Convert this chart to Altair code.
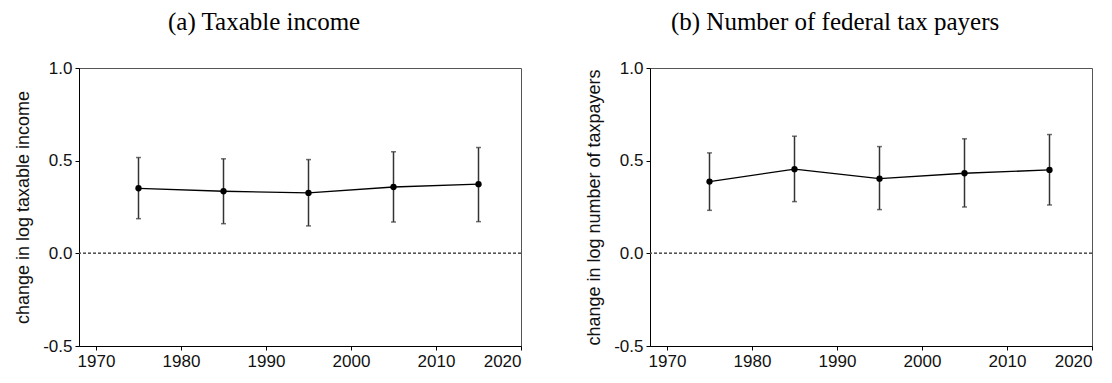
import altair as alt
import pandas as pd

# Decade midpoints for the five estimation windows
years = [1975, 1985, 1995, 2005, 2015]

# (a) change in log taxable income: point estimate and 95% bounds
income_est = [0.351, 0.335, 0.326, 0.358, 0.373]
income_lo = [0.187, 0.160, 0.148, 0.169, 0.171]
income_hi = [0.517, 0.510, 0.506, 0.548, 0.571]

# (b) change in log number of taxpayers
payers_est = [0.387, 0.454, 0.403, 0.432, 0.450]
payers_lo = [0.232, 0.279, 0.236, 0.250, 0.261]
payers_hi = [0.542, 0.632, 0.576, 0.618, 0.641]

x_ticks = [1970, 1980, 1990, 2000, 2010, 2020]
y_ticks = [-0.5, 0.0, 0.5, 1.0]

SANS = "Liberation Sans"
SERIF = "Liberation Serif"

y_label_expr = ("datum.value < 0 ? '-' + format(abs(datum.value), '.1f') "
                ": format(datum.value, '.1f')")


def panel(title, ytitle, est, lo, hi):
    df = pd.DataFrame({"year": years, "est": est, "lo": lo, "hi": hi})
    x = alt.X("year:Q", scale=alt.Scale(domain=[1968, 2020], nice=False, zero=False),
              axis=alt.Axis(values=x_ticks, format="d", title=None, grid=False))
    y = alt.Y("est:Q", scale=alt.Scale(domain=[-0.5, 1.0], nice=False),
              axis=alt.Axis(values=y_ticks, labelExpr=y_label_expr, title=ytitle,
                            grid=False))
    base = alt.Chart(df)
    zero = alt.Chart(df).mark_rule(color="#555", strokeDash=[3, 2], strokeWidth=1).encode(
        y=alt.datum(0)
    )
    bars = base.mark_rule(color="#333", strokeWidth=1.5).encode(
        x=x, y=alt.Y("lo:Q"), y2="hi:Q"
    )
    cap_lo = base.mark_tick(color="#333", orient="horizontal", size=5, thickness=1.5).encode(
        x=x, y=alt.Y("lo:Q")
    )
    cap_hi = base.mark_tick(color="#333", orient="horizontal", size=5, thickness=1.5).encode(
        x=x, y=alt.Y("hi:Q")
    )
    line = base.mark_line(color="black", strokeWidth=1.3).encode(x=x, y=y)
    pts = base.mark_circle(color="black", opacity=1, size=40).encode(x=x, y=y)
    return alt.layer(zero, bars, cap_lo, cap_hi, line, pts).properties(
        width=442, height=278,
        title=alt.TitleParams(title, font=SERIF, fontSize=25, fontWeight="normal",
                              color="black", anchor="middle", frame="bounds",
                              dx=-4, offset=24),
    )


left = panel("(a) Taxable income", "change in log taxable income",
             income_est, income_lo, income_hi)
right = panel("(b) Number of federal tax payers", "change in log number of taxpayers",
              payers_est, payers_lo, payers_hi)

chart = alt.hconcat(left, right, spacing=63).properties(
    padding={"left": 14, "top": 9, "right": 4, "bottom": 4},
    background="white",
).configure_view(
    stroke="#555", strokeWidth=1
).configure_axis(
    labelFont=SANS, titleFont=SANS, labelFontSize=17, titleFontSize=18,
    labelColor="#111", titleColor="#111", titleFontWeight="normal",
    domainColor="black", domainWidth=1, tickColor="black", tickSize=4,
    labelPadding=3, titlePadding=10,
)

chart.save("out.html", embed_options={"renderer": "svg", "actions": False})
